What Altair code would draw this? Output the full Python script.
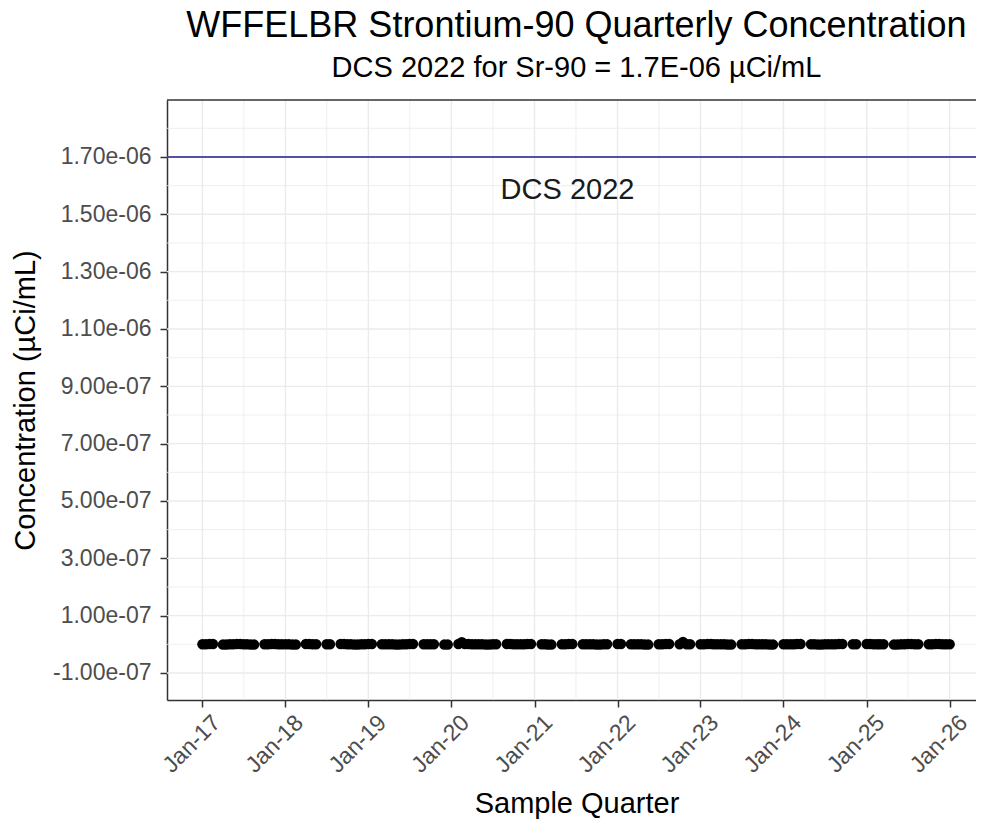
import altair as alt
import pandas as pd

# ---- data ----
years = [2017, 2018, 2019, 2020, 2021, 2022, 2023, 2024, 2025, 2026]
# months in which samples were taken (two samples a month)
months_sampled = {
    2017: [1, 2, 4, 5, 6, 7, 8, 10, 11, 12],
    2018: [1, 2, 4, 5, 7, 9, 10, 11, 12],
    2019: [1, 3, 4, 5, 6, 7, 9, 10, 12],
    2020: [2, 3, 4, 5, 6, 7, 9, 10, 11, 12],
    2021: [2, 3, 5, 6, 8, 9, 10, 11],
    2022: [1, 3, 4, 5, 7, 8, 10, 11],
    2023: [1, 2, 3, 4, 5, 7, 8, 9, 10, 11],
    2024: [1, 2, 3, 5, 6, 7, 8, 9, 11],
    2025: [1, 2, 3, 5, 6, 7, 8, 10, 11, 12],
    2026: [1],
}
sample_days = [1, 16]
# concentration in units of 1e-9 uCi/mL, per sampled month
values_e9 = {
    2017: [0, 1, -1, 0, 1, 0, -1, 0, 1, 0],
    2018: [0, -1, 1, 0, 0, 1, 0, -1, 0],
    2019: [1, 0, 0, -1, 0, 1, 0, 0, -1],
    2020: [1, 1, 0, 0, -1, 0, 1, 0, 0, 1],
    2021: [0, -1, 0, 1, 0, 0, -1, 0],
    2022: [1, 0, 0, -1, 0, 1, 0, 0],
    2023: [0, 1, 0, 0, -1, 0, 1, 0, 0, -1],
    2024: [0, 0, 1, 0, -1, 0, 0, 1, 0],
    2025: [1, 0, 0, -1, 0, 1, 0, 0, 1, 0],
    2026: [0],
}
# the two slightly higher results
high_results_e9 = {"2020-02-16": 7, "2022-10-16": 8}

dcs_value = 1.7e-06
dcs_label = "DCS 2022"
dcs_label_date = "2021-05-26"
dcs_label_y = 1.585e-06

y_ticks = [-1.0e-07, 1.0e-07, 3.0e-07, 5.0e-07, 7.0e-07, 9.0e-07,
           1.1e-06, 1.3e-06, 1.5e-06, 1.7e-06]
y_minor = [0.0, 2.0e-07, 4.0e-07, 6.0e-07, 8.0e-07, 1.0e-06,
           1.2e-06, 1.4e-06, 1.6e-06, 1.8e-06]
x_major = ["2017-01-01", "2018-01-01", "2019-01-01", "2020-01-01", "2021-01-01",
           "2022-01-01", "2023-01-01", "2024-01-01", "2025-01-01", "2026-01-01"]
x_minor = ["2017-07-02", "2018-07-02", "2019-07-02", "2020-07-02", "2021-07-02",
           "2022-07-02", "2023-07-02", "2024-07-02", "2025-07-02"]

rows = []
for yr in years:
    for m, v in zip(months_sampled[yr], values_e9[yr]):
        days = sample_days if not (yr == 2026) else sample_days[:1]
        for d in days:
            key = f"{yr}-{m:02d}-{d:02d}"
            val = high_results_e9.get(key, v)
            rows.append({"date": key, "conc": val * 1e-9})
df = pd.DataFrame(rows)

W, H = 809, 600
FONT = "Liberation Sans"
GRID = "#EBEBEB"
DARK = "#333333"

x_scale = alt.Scale(type="utc",
                    domain=[alt.DateTime(year=2016, month=7, date=29, utc=True),
                            alt.DateTime(year=2026, month=4, date=27, utc=True)])
y_scale = alt.Scale(domain=[-1.942e-07, 1.8988e-06], nice=False, zero=False)

x_axis = alt.Axis(
    title="Sample Quarter",
    values=[alt.DateTime(year=y, month=1, date=1, utc=True) for y in years],
    labelExpr="utcFormat(datum.value, '%b-%y')",
    labelAngle=-45, labelAlign="right", labelBaseline="top",
    labelPadding=4, labelOffset=6, grid=False,
    titleX=W / 2 + 5, titleY=103, titleBaseline="middle", titleAlign="center",
)
y_axis = alt.Axis(
    title="Concentration (µCi/mL)",
    values=y_ticks,
    labelExpr="replace(replace(format(datum.value, '.2e'), regexp('^[\u2212-]'), '-'), regexp('e[\u2212-]'), 'e-0')",
    labelPadding=9, grid=False,
    titleX=-142, titleY=300, titleAngle=-90, titleBaseline="middle", titleAlign="center",
)

grid_minor_y = alt.Chart(pd.DataFrame({"g": y_minor})).mark_rule(
    color=GRID, strokeWidth=0.8
).encode(y=alt.Y("g:Q", scale=y_scale, axis=y_axis))
grid_major_y = alt.Chart(pd.DataFrame({"g": y_ticks})).mark_rule(
    color=GRID, strokeWidth=1.4
).encode(y=alt.Y("g:Q", scale=y_scale, axis=y_axis))
grid_minor_x = alt.Chart(pd.DataFrame({"d": x_minor})).mark_rule(
    color=GRID, strokeWidth=0.8
).encode(x=alt.X("d:T", scale=x_scale, axis=x_axis))
grid_major_x = alt.Chart(pd.DataFrame({"d": x_major})).mark_rule(
    color=GRID, strokeWidth=1.4
).encode(x=alt.X("d:T", scale=x_scale, axis=x_axis))

top_border = alt.Chart(pd.DataFrame({"a": [0]})).mark_rule(
    color=DARK, strokeWidth=1.5
).encode(x=alt.value(0), x2=alt.value(W), y=alt.value(0))

dcs_line = alt.Chart(pd.DataFrame({"v": [dcs_value]})).mark_rule(
    color="#1C1C8C", strokeWidth=1.5
).encode(y=alt.Y("v:Q", scale=y_scale, axis=y_axis))

dcs_text = alt.Chart(pd.DataFrame({"d": [dcs_label_date], "v": [dcs_label_y], "t": [dcs_label]})).mark_text(
    font=FONT, fontSize=29, color="#1A1A1A", align="center", baseline="middle"
).encode(
    x=alt.X("d:T", scale=x_scale, axis=x_axis),
    y=alt.Y("v:Q", scale=y_scale, axis=y_axis),
    text="t:N",
)

points = alt.Chart(df).mark_circle(size=110, color="black", opacity=1).encode(
    x=alt.X("date:T", scale=x_scale, axis=x_axis),
    y=alt.Y("conc:Q", scale=y_scale, axis=y_axis),
)

chart = alt.layer(
    grid_minor_y, grid_minor_x, grid_major_y, grid_major_x,
    dcs_line, dcs_text, points, top_border
).properties(
    width=W, height=H,
    title=alt.TitleParams(
        text="WFFELBR Strontium-90 Quarterly Concentration",
        subtitle="DCS 2022 for Sr-90 = 1.7E-06 µCi/mL",
        anchor="middle", font=FONT, fontSize=36, fontWeight="normal", color="black",
        subtitleFont=FONT, subtitleFontSize=29, subtitleColor="black",
        subtitlePadding=9, offset=15, dx=5,
    ),
    autosize=alt.AutoSizeParams(type="none"),
    padding={"left": 159, "top": 92, "right": 0, "bottom": 119},
).configure_view(stroke=None).configure_axis(
    domainColor=DARK, domainWidth=1.5, tickColor=DARK, tickWidth=1.5, tickSize=7,
    labelColor="#4D4D4D", labelFont=FONT, labelFontSize=23,
    titleColor="black", titleFont=FONT, titleFontSize=29, titleFontWeight="normal",
)

chart.save("out.html", embed_options={"renderer": "svg", "actions": False})
